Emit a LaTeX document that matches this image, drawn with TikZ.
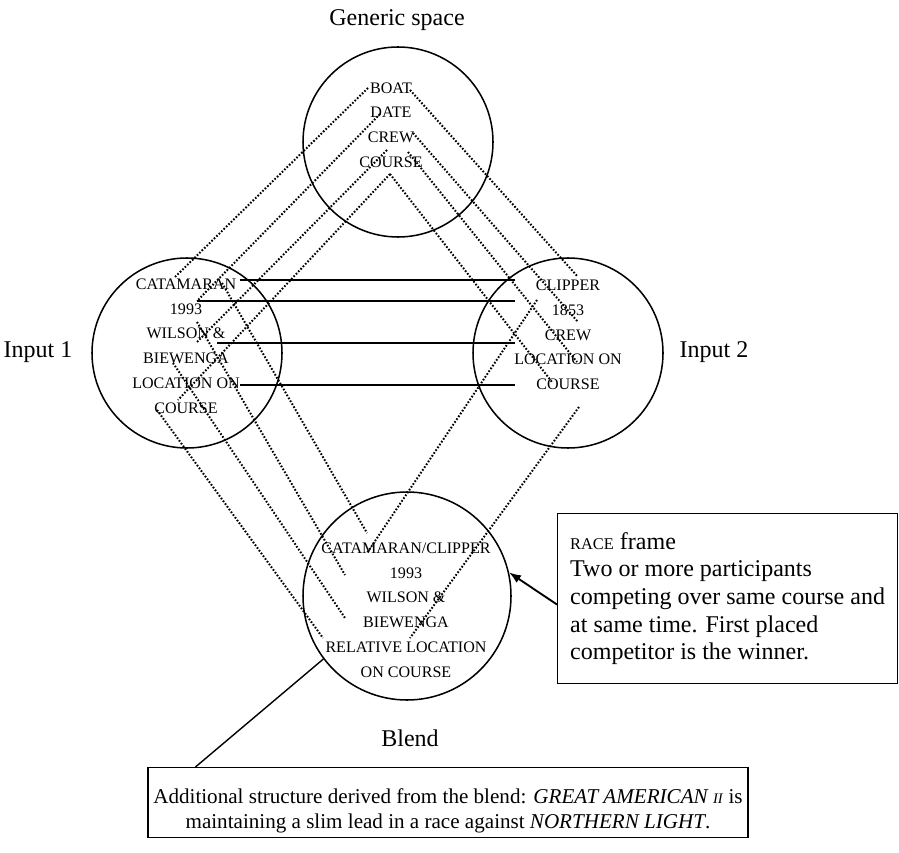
\documentclass[tikz,border=0pt]{standalone}
\usepackage{fontspec}
\setmainfont{Liberation Serif}
\usetikzlibrary{arrows.meta}
\newcommand{\scword}[1]{{\fontsize{14}{16}\selectfont #1}}

\begin{document}
\begin{tikzpicture}[x=0.03cm,y=-0.03cm,>=Latex,
  space/.style={draw,circle,line width=1.3pt,inner sep=0pt,minimum size=5.7cm},
  items/.style={align=center,font=\fontsize{13.7}{21.1}\selectfont},
  caption/.style={font=\fontsize{20.5}{23.5}\selectfont},
  map/.style={line width=1.7pt,dash pattern=on 1.4pt off 1.5pt},
  cross/.style={line width=1.3pt}]
  \useasboundingbox (0,0) rectangle (899,853);

  % the four spaces
  \node[space] (generic) at (398,142) {};
  \node[space] (input1) at (187,353) {};
  \node[space] (input2) at (568,353) {};
  \node[space,minimum size=6.24cm] (blend) at (407,596) {};

  \node[caption] (lgeneric) at (397,20) {Generic space};
  \node[caption] (linput1) at (38,352) {Input 1};
  \node[caption] (linput2) at (714,352) {Input 2};
  \node[caption] (lblend) at (410,738) {Blend};

  \node[items] (gitems) at (391,125) {BOAT\\DATE\\CREW\\COURSE};
  \node[items] (aitems) at (186,346) {CATAMARAN\\1993\\WILSON \&\\BIEWENGA\\LOCATION ON\\COURSE};
  \node[items] (bitems) at (568,335) {CLIPPER\\1853\\CREW\\LOCATION ON\\COURSE};
  \node[items] (citems) at (406,610) {CATAMARAN/CLIPPER\\1993\\WILSON \&\\BIEWENGA\\RELATIVE LOCATION\\ON COURSE};

  % ends of the mappings
  \coordinate (boatL) at (368,88);
  \coordinate (boatR) at (410,90);
  \coordinate (dateL) at (380,114);
  \coordinate (crewR) at (413,133);
  \coordinate (courseL) at (387,150);
  \coordinate (courseR) at (408,152);
  \coordinate (apex) at (390,174);

  \coordinate (catUp) at (175,277);
  \coordinate (yearUp) at (197,301);
  \coordinate (wilUp) at (197,342);
  \coordinate (locUp) at (178,400);
  \coordinate (catDn) at (222,283);
  \coordinate (yearDn) at (197,322);
  \coordinate (bieDn) at (173,363);
  \coordinate (locDn) at (157,410);
  \coordinate (catEnd) at (240,280);
  \coordinate (wilEnd) at (217,343);
  \coordinate (locEnd) at (240,385);

  \coordinate (clipUp) at (578,277);
  \coordinate (crewUp) at (578,322);
  \coordinate (loc2Up) at (577,362);
  \coordinate (course2Up) at (552,382);
  \coordinate (clipDn) at (537,300);
  \coordinate (loc2Dn) at (579,407);
  \coordinate (clipEnd) at (515,280);
  \coordinate (yearEnd) at (515,301);
  \coordinate (crewEnd) at (515,343);
  \coordinate (loc2End) at (515,385);

  \coordinate (bCatA) at (367,533);
  \coordinate (bCatB) at (367,553);
  \coordinate (bYear) at (345,575);
  \coordinate (bWil) at (345,618);
  \coordinate (bRelA) at (323,638);
  \coordinate (bRelB) at (410,638);

  % generic space to the inputs
  \draw[map] (boatL) -- (catUp);
  \draw[map] (dateL) -- (yearUp);
  \draw[map] (courseL) -- (wilUp);
  \draw[map] (apex) -- (locUp);
  \draw[map] (boatR) -- (clipUp);
  \draw[map] (crewR) -- (crewUp);
  \draw[map] (courseR) -- (loc2Up);
  \draw[map] (apex) -- (course2Up);

  % cross-space mapping
  \draw[cross] (catEnd) -- (clipEnd);
  \draw[cross] (yearUp) -- (yearEnd);
  \draw[cross] (wilEnd) -- (crewEnd);
  \draw[cross] (locEnd) -- (loc2End);

  % projection into the blend
  \draw[map] (catDn) -- (bCatA);
  \draw[map] (yearDn) -- (bYear);
  \draw[map] (bieDn) -- (bWil);
  \draw[map] (locDn) -- (bRelA);
  \draw[map] (clipDn) -- (bCatB);
  \draw[map] (loc2Dn) -- (bRelB);

  % frame and emergent structure
  \node[draw,line width=1pt,anchor=north west,align=left,minimum width=10.2cm,minimum height=5.1cm,
        font=\fontsize{20.5}{23.5}\selectfont] (race) at (557,513)
    {\scword{RACE} frame\\Two or more participants\\competing over same course and\\at same time. First placed\\competitor is the winner.};
  \draw[->,line width=1.6pt] (race.182) -- (blend.13);

  \node[draw,line width=1pt,anchor=north,align=center,minimum width=18cm,inner ysep=3.7pt,
        font=\fontsize{18}{21.3}\selectfont] (note) at (448,767)
    {\rule{0pt}{27pt}Additional structure derived from the blend: \textit{GREAT AMERICAN {\fontsize{12.5}{14}\selectfont II}} is\\maintaining a slim lead in a race against \textit{NORTHERN LIGHT}.};
  \draw[line width=1.2pt] (note.172) -- (blend.217);
\end{tikzpicture}
\end{document}
